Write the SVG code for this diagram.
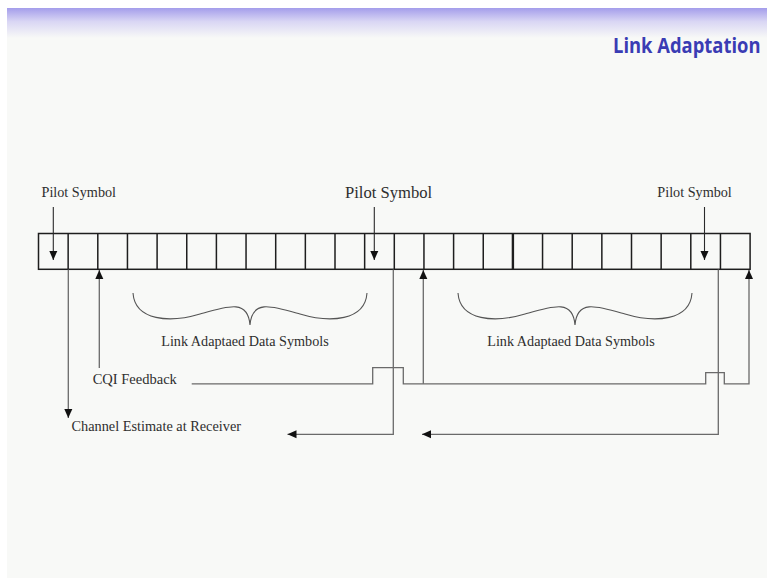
<svg xmlns="http://www.w3.org/2000/svg" width="767" height="578" viewBox="0 0 767 578">
<style>
.t{font-family:"Liberation Serif","Times New Roman",serif;fill:#2e2e2e}
.cell{fill:none;stroke:#1e1e1e;stroke-width:1.5}
.conn{fill:none;stroke:#6a6a6a;stroke-width:1.3}
.pil{fill:none;stroke:#2a2a2a;stroke-width:1.1}
.brace{fill:none;stroke:#555;stroke-width:1.1}
</style>
<defs>
<linearGradient id="hdr" x1="0" y1="0" x2="0" y2="1">
<stop offset="0" stop-color="#a49deb"/>
<stop offset="0.45" stop-color="#d9d6f4"/>
<stop offset="1" stop-color="#f8f9f7"/>
</linearGradient>
<marker id="ah" markerUnits="userSpaceOnUse" markerWidth="10" markerHeight="10" viewBox="0 0 10 10" refX="9" refY="5" orient="auto">
<path d="M0,1 L9,5 L0,9 Z" fill="#111"/>
</marker>
</defs>
<rect x="0" y="0" width="767" height="578" fill="#ffffff"/>
<rect x="7" y="8" width="760" height="570" fill="#f8f9f7"/>
<rect x="7" y="8" width="760" height="30" fill="url(#hdr)"/>
<g id="title" transform="translate(613,53) scale(1,1.17)">
<text x="0" y="0" font-family="'Open Sans','Noto Sans',sans-serif" font-weight="bold" font-size="18.4" fill="#3a3cb4">Link Adaptation</text>
</g>

<g id="symbol-row">
<rect class="cell" x="38.5" y="233.5" width="711.6" height="35.8"/>
<path class="cell" d="M68.15,233.5V269.3M97.8,233.5V269.3M127.45,233.5V269.3M157.1,233.5V269.3M186.75,233.5V269.3M216.4,233.5V269.3M246.05,233.5V269.3M275.7,233.5V269.3M305.35,233.5V269.3M335,233.5V269.3M364.65,233.5V269.3M394.3,233.5V269.3M423.95,233.5V269.3M453.6,233.5V269.3M483.25,233.5V269.3M542.55,233.5V269.3M572.2,233.5V269.3M601.85,233.5V269.3M631.5,233.5V269.3M661.15,233.5V269.3M690.8,233.5V269.3M720.45,233.5V269.3"/>
<path d="M512.9,233.5V269.3" stroke="#1e1e1e" stroke-width="2.4"/>
</g>

<g id="pilot-1"><text class="t" x="41.5" y="197" font-size="14.2">Pilot Symbol</text></g>
<g id="pilot-2"><text class="t" x="345" y="198" font-size="16.6">Pilot Symbol</text></g>
<g id="pilot-3"><text class="t" x="657.3" y="197" font-size="14.2">Pilot Symbol</text></g>

<g id="brace-1">
<path class="brace" d="M133,293 C135,321 170,323 200,314 C228,306 248,299 250,325 C252,299 272,306 300,314 C330,323 365,321 367,293"/>
<text class="t" x="245" y="345.7" font-size="14.2" text-anchor="middle">Link Adaptaed Data Symbols</text>
</g>
<g id="brace-2">
<path class="brace" d="M458,293 C460,321 495,323 525,314 C553,306 573,299 575,325 C577,299 597,306 625,314 C655,323 690,321 692,293"/>
<text class="t" x="571" y="345.7" font-size="14.2" text-anchor="middle">Link Adaptaed Data Symbols</text>
</g>
<g id="cqi-label"><text class="t" x="92.7" y="384" font-size="14.5">CQI Feedback</text></g>
<g id="channel-label"><text class="t" x="71.5" y="430.5" font-size="14.3">Channel Estimate at Receiver</text></g>

<g id="connectors">
<path class="pil" d="M53.3,207V260" marker-end="url(#ah)"/>
<path class="pil" d="M374.3,207V260" marker-end="url(#ah)"/>
<path class="pil" d="M704.5,207V260" marker-end="url(#ah)"/>
<path class="conn" d="M68.3,269.5V418" marker-end="url(#ah)"/>
<path class="conn" d="M99.3,368V270" marker-end="url(#ah)"/>
<path class="conn" d="M191.7,383.8H372.7V367.7H403.3V383.8H705.7V372.7H724.3V383.8H749V270" marker-end="url(#ah)"/>
<path class="conn" d="M423.3,383.8V270" marker-end="url(#ah)"/>
<path class="conn" d="M393.3,269.5V434.3H287.5" marker-end="url(#ah)"/>
<path class="conn" d="M718.3,269.5V434.3H422" marker-end="url(#ah)"/>
</g>
</svg>
